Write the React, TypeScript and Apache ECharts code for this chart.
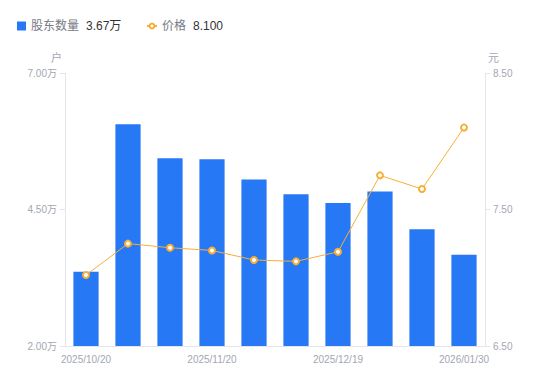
import React, { useEffect, useRef } from "react";
import * as echarts from "echarts";

const categories = [
  "2025/10/20",
  "2025/10/31",
  "2025/11/10",
  "2025/11/20",
  "2025/11/28",
  "2025/12/10",
  "2025/12/19",
  "2025/12/31",
  "2026/01/20",
  "2026/01/30",
];
// 股东数量, in 万户
const holders = [3.36, 6.06, 5.44, 5.42, 5.05, 4.78, 4.62, 4.83, 4.14, 3.67];
// 价格, in 元
const prices = [7.02, 7.25, 7.22, 7.2, 7.13, 7.12, 7.19, 7.75, 7.65, 8.1];

const leftTicks = { min: 2, max: 7, interval: 2.5 };
const rightTicks = { min: 6.5, max: 8.5, interval: 1 };

const BLUE = "#2778F5";
const ORANGE = "#F8AF36";
const AXIS_TEXT = "#A3A6B4";
const AXIS_LINE = "#E4E6EB";
const FONT = "'Liberation Sans', 'Noto Sans CJK SC', sans-serif";

export default function App() {
  const ref = useRef<HTMLDivElement>(null);

  useEffect(() => {
    if (!ref.current) return;
    const chart = echarts.init(ref.current, undefined, { renderer: "svg" });
    const lastHolders = holders[holders.length - 1].toFixed(2) + "万";
    const lastPrice = prices[prices.length - 1].toFixed(3);
    const legendText = {
      fontFamily: FONT,
      rich: {
        n: { fontSize: 12, color: "#777A85", fontFamily: FONT },
        v: { fontSize: 12, color: "#333333", padding: [0, 0, 0, 7], fontFamily: FONT },
      },
    };
    chart.setOption({
      animation: false,
      textStyle: { fontFamily: FONT },
      legend: [
        {
          left: 17,
          top: 20,
          padding: 0,
          itemWidth: 9,
          itemHeight: 9,
          selectedMode: false,
          data: [{ name: "股东数量", icon: "rect" }],
          formatter: (name: string) => `{n|${name}}{v|${lastHolders}}`,
          textStyle: legendText,
        },
        {
          left: 146,
          top: 20,
          padding: 0,
          itemWidth: 10,
          itemHeight: 6,
          selectedMode: false,
          data: [{ name: "价格" }],
          formatter: (name: string) => `{n|${name}}{v|${lastPrice}}`,
          textStyle: legendText,
        },
      ],
      grid: { left: 65, right: 65, top: 73, bottom: 35 },
      xAxis: {
        type: "category",
        data: categories,
        boundaryGap: true,
        axisLine: { show: true, lineStyle: { color: AXIS_LINE } },
        axisTick: { show: false },
        axisLabel: {
          interval: 2,
          color: AXIS_TEXT,
          fontSize: 10,
          margin: 8,
          fontFamily: FONT,
        },
        splitLine: { show: false },
      },
      yAxis: [
        {
          type: "value",
          name: "户",
          nameGap: 10,
          nameTextStyle: { color: AXIS_TEXT, fontSize: 11, align: "right", padding: [0, 3, 0, 0], fontFamily: FONT },
          min: leftTicks.min,
          max: leftTicks.max,
          interval: leftTicks.interval,
          position: "left",
          axisLine: { show: true, lineStyle: { color: AXIS_LINE } },
          axisTick: { show: true, length: 5, lineStyle: { color: AXIS_LINE } },
          axisLabel: {
            color: AXIS_TEXT,
            fontSize: 10,
            margin: 8,
            fontFamily: FONT,
            formatter: (v: number) => v.toFixed(2) + "万",
          },
          splitLine: { show: false },
        },
        {
          type: "value",
          name: "元",
          nameGap: 10,
          nameTextStyle: { color: AXIS_TEXT, fontSize: 11, align: "left", padding: [0, 0, 0, 3], fontFamily: FONT },
          min: rightTicks.min,
          max: rightTicks.max,
          interval: rightTicks.interval,
          position: "right",
          axisLine: { show: true, lineStyle: { color: AXIS_LINE } },
          axisTick: { show: true, length: 5, lineStyle: { color: AXIS_LINE } },
          axisLabel: {
            color: AXIS_TEXT,
            fontSize: 10,
            margin: 8,
            fontFamily: FONT,
            formatter: (v: number) => v.toFixed(2),
          },
          splitLine: { show: false },
        },
      ],
      series: [
        {
          name: "股东数量",
          type: "bar",
          yAxisIndex: 0,
          data: holders,
          barWidth: "60%",
          itemStyle: { color: BLUE },
        },
        {
          name: "价格",
          type: "line",
          yAxisIndex: 1,
          data: prices,
          symbol: "emptyCircle",
          symbolSize: 6,
          showSymbol: true,
          z: 5,
          lineStyle: { color: ORANGE, width: 1 },
          itemStyle: { color: ORANGE, borderColor: ORANGE, borderWidth: 2 },
        },
      ],
    });
    return () => chart.dispose();
  }, []);

  return <div ref={ref} style={{ width: 550, height: 381, margin: -8 }} />;
}
